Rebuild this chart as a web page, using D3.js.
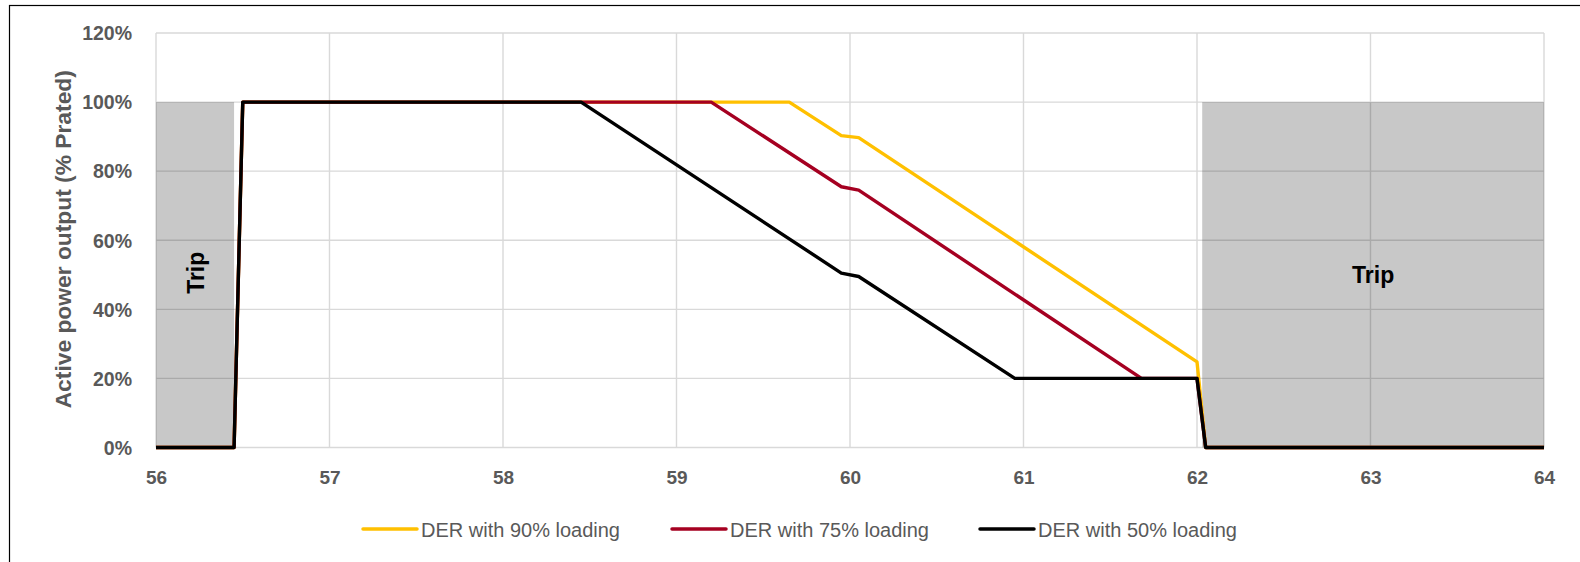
<!DOCTYPE html>
<html>
<head>
<meta charset="utf-8">
<script src="https://cdn.jsdelivr.net/npm/d3@7"></script>
<style>
  html, body { margin: 0; padding: 0; background: #fff; }
  svg { display: block; }
</style>
</head>
<body>
<svg id="chart" width="1580" height="562"></svg>
<script>
// ---- data ----
const xTicks = [56, 57, 58, 59, 60, 61, 62, 63, 64];
const yTicks = [0, 20, 40, 60, 80, 100, 120];
const yTickLabels = ["0%", "20%", "40%", "60%", "80%", "100%", "120%"];

const seriesNames = ["DER with 90% loading", "DER with 75% loading", "DER with 50% loading"];
const seriesColors = ["#FFC000", "#A50021", "#000000"];

const freq90 = [56, 56.45, 56.5, 59.65, 59.95, 60.05, 62.0, 62.05, 64];
const p90    = [0, 0, 100, 100, 90.3, 89.7, 24.8, 0, 0];
const freq75 = [56, 56.45, 56.5, 59.2, 59.95, 60.05, 61.68, 62.0, 62.05, 64];
const p75    = [0, 0, 100, 100, 75.5, 74.5, 20, 20, 0, 0];
const freq50 = [56, 56.45, 56.5, 58.45, 59.95, 60.05, 60.95, 62.0, 62.05, 64];
const p50    = [0, 0, 100, 100, 50.5, 49.5, 20, 20, 0, 0];

const tripStart = [56, 62.03];
const tripEnd   = [56.45, 64];
const tripLevel = 100;
const tripLabel = "Trip";
const yTitle = "Active power output (% Prated)";

// ---- layout ----
const svg = d3.select("#chart");
const plotL = 156, plotR = 1544, plotT = 33, plotB = 447.5;
const x = d3.scaleLinear().domain([56, 64]).range([plotL, plotR]);
const y = d3.scaleLinear().domain([0, 120]).range([plotB, plotT]);
const textGray = "#595959";
const font = "'Liberation Sans', Arial, sans-serif";

// outer frame
svg.append("rect").attr("x", 9.5).attr("y", 5.5).attr("width", 1600).attr("height", 600)
  .attr("fill", "none").attr("stroke", "#000").attr("stroke-width", 1.2);

// gridlines
const grid = svg.append("g");
grid.selectAll("line.h").data(yTicks).join("line").attr("class", "h")
  .attr("x1", plotL).attr("x2", plotR)
  .attr("y1", d => y(d)).attr("y2", d => y(d))
  .attr("stroke", "#D9D9D9").attr("stroke-width", 1.4);
grid.selectAll("line.v").data(xTicks).join("line").attr("class", "v")
  .attr("y1", plotT).attr("y2", plotB)
  .attr("x1", d => x(d)).attr("x2", d => x(d))
  .attr("stroke", "#D9D9D9").attr("stroke-width", 1.4);

// trip zones
svg.append("g").selectAll("rect").data(tripStart).join("rect")
  .attr("x", d => x(d))
  .attr("width", (d, i) => x(tripEnd[i]) - x(d))
  .attr("y", y(tripLevel))
  .attr("height", y(0) - y(tripLevel))
  .attr("fill", "#000").attr("fill-opacity", 0.215);

// axes tick labels
const xAxis = d3.axisBottom(x).tickValues(xTicks).tickSize(0).tickPadding(0).tickFormat(d3.format("d"));
const gx = svg.append("g").attr("transform", `translate(0,${plotB})`).call(xAxis);
gx.select(".domain").remove();
gx.selectAll("text").attr("dy", null).attr("y", 36.5)
  .attr("fill", textGray).attr("font-family", font).attr("font-weight", "bold").attr("font-size", 19);

const yAxis = d3.axisLeft(y).tickValues(yTicks).tickSize(0).tickPadding(0)
  .tickFormat(d => yTickLabels[yTicks.indexOf(d)]);
const gy = svg.append("g").attr("transform", `translate(132,0)`).call(yAxis);
gy.select(".domain").remove();
gy.selectAll("text").attr("dy", "0.35em")
  .attr("fill", textGray).attr("font-family", font).attr("font-weight", "bold").attr("font-size", 19.5);

// y title
svg.append("text")
  .attr("transform", `translate(71,${(plotT + plotB) / 2 - 1}) rotate(-90)`)
  .attr("text-anchor", "middle")
  .attr("fill", textGray).attr("font-family", font).attr("font-weight", "bold").attr("font-size", 22.8)
  .text(yTitle);

// lines
const allSeries = [
  { f: freq90, p: p90 },
  { f: freq75, p: p75 },
  { f: freq50, p: p50 }
];
const line = d3.line().x(d => x(d[0])).y(d => y(d[1]));
svg.append("g").selectAll("path").data(allSeries).join("path")
  .attr("d", s => line(s.f.map((v, i) => [v, s.p[i]])))
  .attr("fill", "none")
  .attr("stroke", (s, i) => seriesColors[i])
  .attr("stroke-width", 3.4)
  .attr("stroke-linejoin", "round");

// trip labels
svg.append("text")
  .attr("transform", `translate(${(x(tripStart[0]) + x(tripEnd[0])) / 2 + 9},${y(50) - 2}) rotate(-90)`)
  .attr("text-anchor", "middle")
  .attr("fill", "#000").attr("font-family", font).attr("font-weight", "bold").attr("font-size", 23)
  .text(tripLabel);
svg.append("text")
  .attr("x", (x(tripStart[1]) + x(tripEnd[1])) / 2)
  .attr("y", y(50) + 8)
  .attr("text-anchor", "middle")
  .attr("fill", "#000").attr("font-family", font).attr("font-weight", "bold").attr("font-size", 23)
  .text(tripLabel);

// legend
const legendX = [363, 672, 980];
const legendY = 529;
const lg = svg.append("g").selectAll("g").data(seriesNames).join("g")
  .attr("transform", (d, i) => `translate(${legendX[i]},${legendY})`);
lg.append("line").attr("x1", 0).attr("x2", 54).attr("y1", 0).attr("y2", 0)
  .attr("stroke", (d, i) => seriesColors[i]).attr("stroke-width", 3.5).attr("stroke-linecap", "round");
lg.append("text").attr("x", 58).attr("y", 7.5)
  .attr("fill", textGray).attr("font-family", font).attr("font-size", 20)
  .text(d => d);
</script>
</body>
</html>
